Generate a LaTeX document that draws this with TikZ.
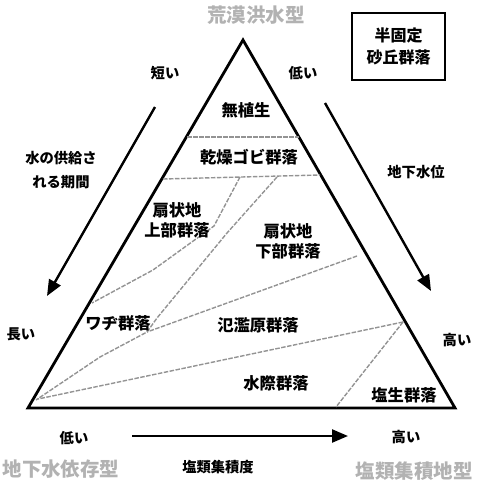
\documentclass[tikz,border=0pt]{standalone}
\usepackage{fontspec}
\newfontfamily\jp{Noto Sans CJK JP}
\usetikzlibrary{arrows.meta}
\begin{document}
\begin{tikzpicture}[x=1pt,y=-1pt,
  edge/.style={line width=2.8pt,line join=miter},
  bound/.style={gray!85,line width=1.4pt,dash pattern=on 4.5pt off 1.5pt},
  bigarrow/.style={line width=2.4pt,-{Triangle[length=16pt,width=13pt]}},
  region/.style={font=\jp\bfseries\fontsize{16.3}{18}\selectfont,inner sep=0pt,align=center},
  side/.style={font=\jp\bfseries\fontsize{14.3}{24}\selectfont,inner sep=0pt,align=center},
  corner/.style={font=\jp\bfseries\fontsize{19.5}{22}\selectfont,inner sep=0pt,text=gray!60},
  boxed/.style={draw,line width=2pt,minimum width=93pt,minimum height=67pt,align=center,
     font=\jp\bfseries\fontsize{16}{22}\selectfont}]
\useasboundingbox (0,0) rectangle (480,485);
% triangle
\coordinate (A) at (243,40);
\coordinate (L) at (28,408);
\coordinate (R) at (455,408);
\draw[edge] (A) -- (R) -- (L) -- cycle;
% boundaries
\coordinate (h1l) at (187,137); \coordinate (h1r) at (299,137);
\draw[bound] (h1l) -- (h1r);
\coordinate (h2l) at (163,179); \coordinate (h2r) at (320,175);
\draw[bound] (h2l) -- (h2r);
\coordinate (a1) at (240,177); \coordinate (a2) at (214,226);
\coordinate (a3) at (153,270); \coordinate (a4) at (92,303);
\draw[bound] (a1) -- (a2) -- (a3) -- (a4);
\coordinate (b1) at (277,177); \coordinate (b2) at (227,233);
\coordinate (b3) at (157,318); \coordinate (b4) at (147,332);
\coordinate (b5) at (100,357); \coordinate (b6) at (36,400);
\draw[bound] (b1) -- (b2) -- (b3) -- (b4) -- (b5) -- (b6);
\coordinate (c1) at (357,256);
\draw[bound] (c1) -- (b4);
\coordinate (d1) at (403,322); \coordinate (d2) at (38,399);
\draw[bound] (d1) -- (d2);
\coordinate (e1) at (336,407);
\draw[bound] (d1) -- (e1);
% arrows
\coordinate (la1) at (155,107); \coordinate (la2) at (47,296);
\draw[bigarrow] (la1) -- (la2);
\coordinate (ra1) at (325,103); \coordinate (ra2) at (431,291);
\draw[bigarrow] (ra1) -- (ra2);
\coordinate (ba1) at (132,436); \coordinate (ba2) at (348,436);
\draw[bigarrow] (ba1) -- (ba2);
% box
\node[boxed] (box) at (398.5,46.5) {半固定\\砂丘群落};
% region labels
\node[region] (n1) at (246,110) {無植生};
\node[region] (n2) at (249,157) {乾燥ゴビ群落};
\node[region] (n3) at (177,220) {扇状地\\[2pt]上部群落};
\node[region] (n4) at (288,241) {扇状地\\[2pt]下部群落};
\node[region] (n5) at (118,323) {ワヂ群落};
\node[region] (n6) at (258,325) {氾濫原群落};
\node[region] (n7) at (276,383) {水際群落};
\node[region] (n8) at (404,395) {塩生群落};
% side labels
\node[side] (s1) at (165,73) {短い};
\node[side] (s2) at (303,73) {低い};
\node[side] (s3) at (61,170) {水の供給さ\\れる期間};
\node[side] (s4) at (416,172) {地下水位};
\node[side] (s5) at (21,334) {長い};
\node[side] (s6) at (457,340) {高い};
\node[side] (s7) at (74,438) {低い};
\node[side] (s8) at (406,437) {高い};
\node[side] (s9) at (218,467) {塩類集積度};
% corner labels
\node[corner] (k1) at (256,15) {荒漠洪水型};
\node[corner] (k2) at (61,469) {地下水依存型};
\node[corner] (k3) at (414,471) {塩類集積地型};
\end{tikzpicture}
\end{document}
